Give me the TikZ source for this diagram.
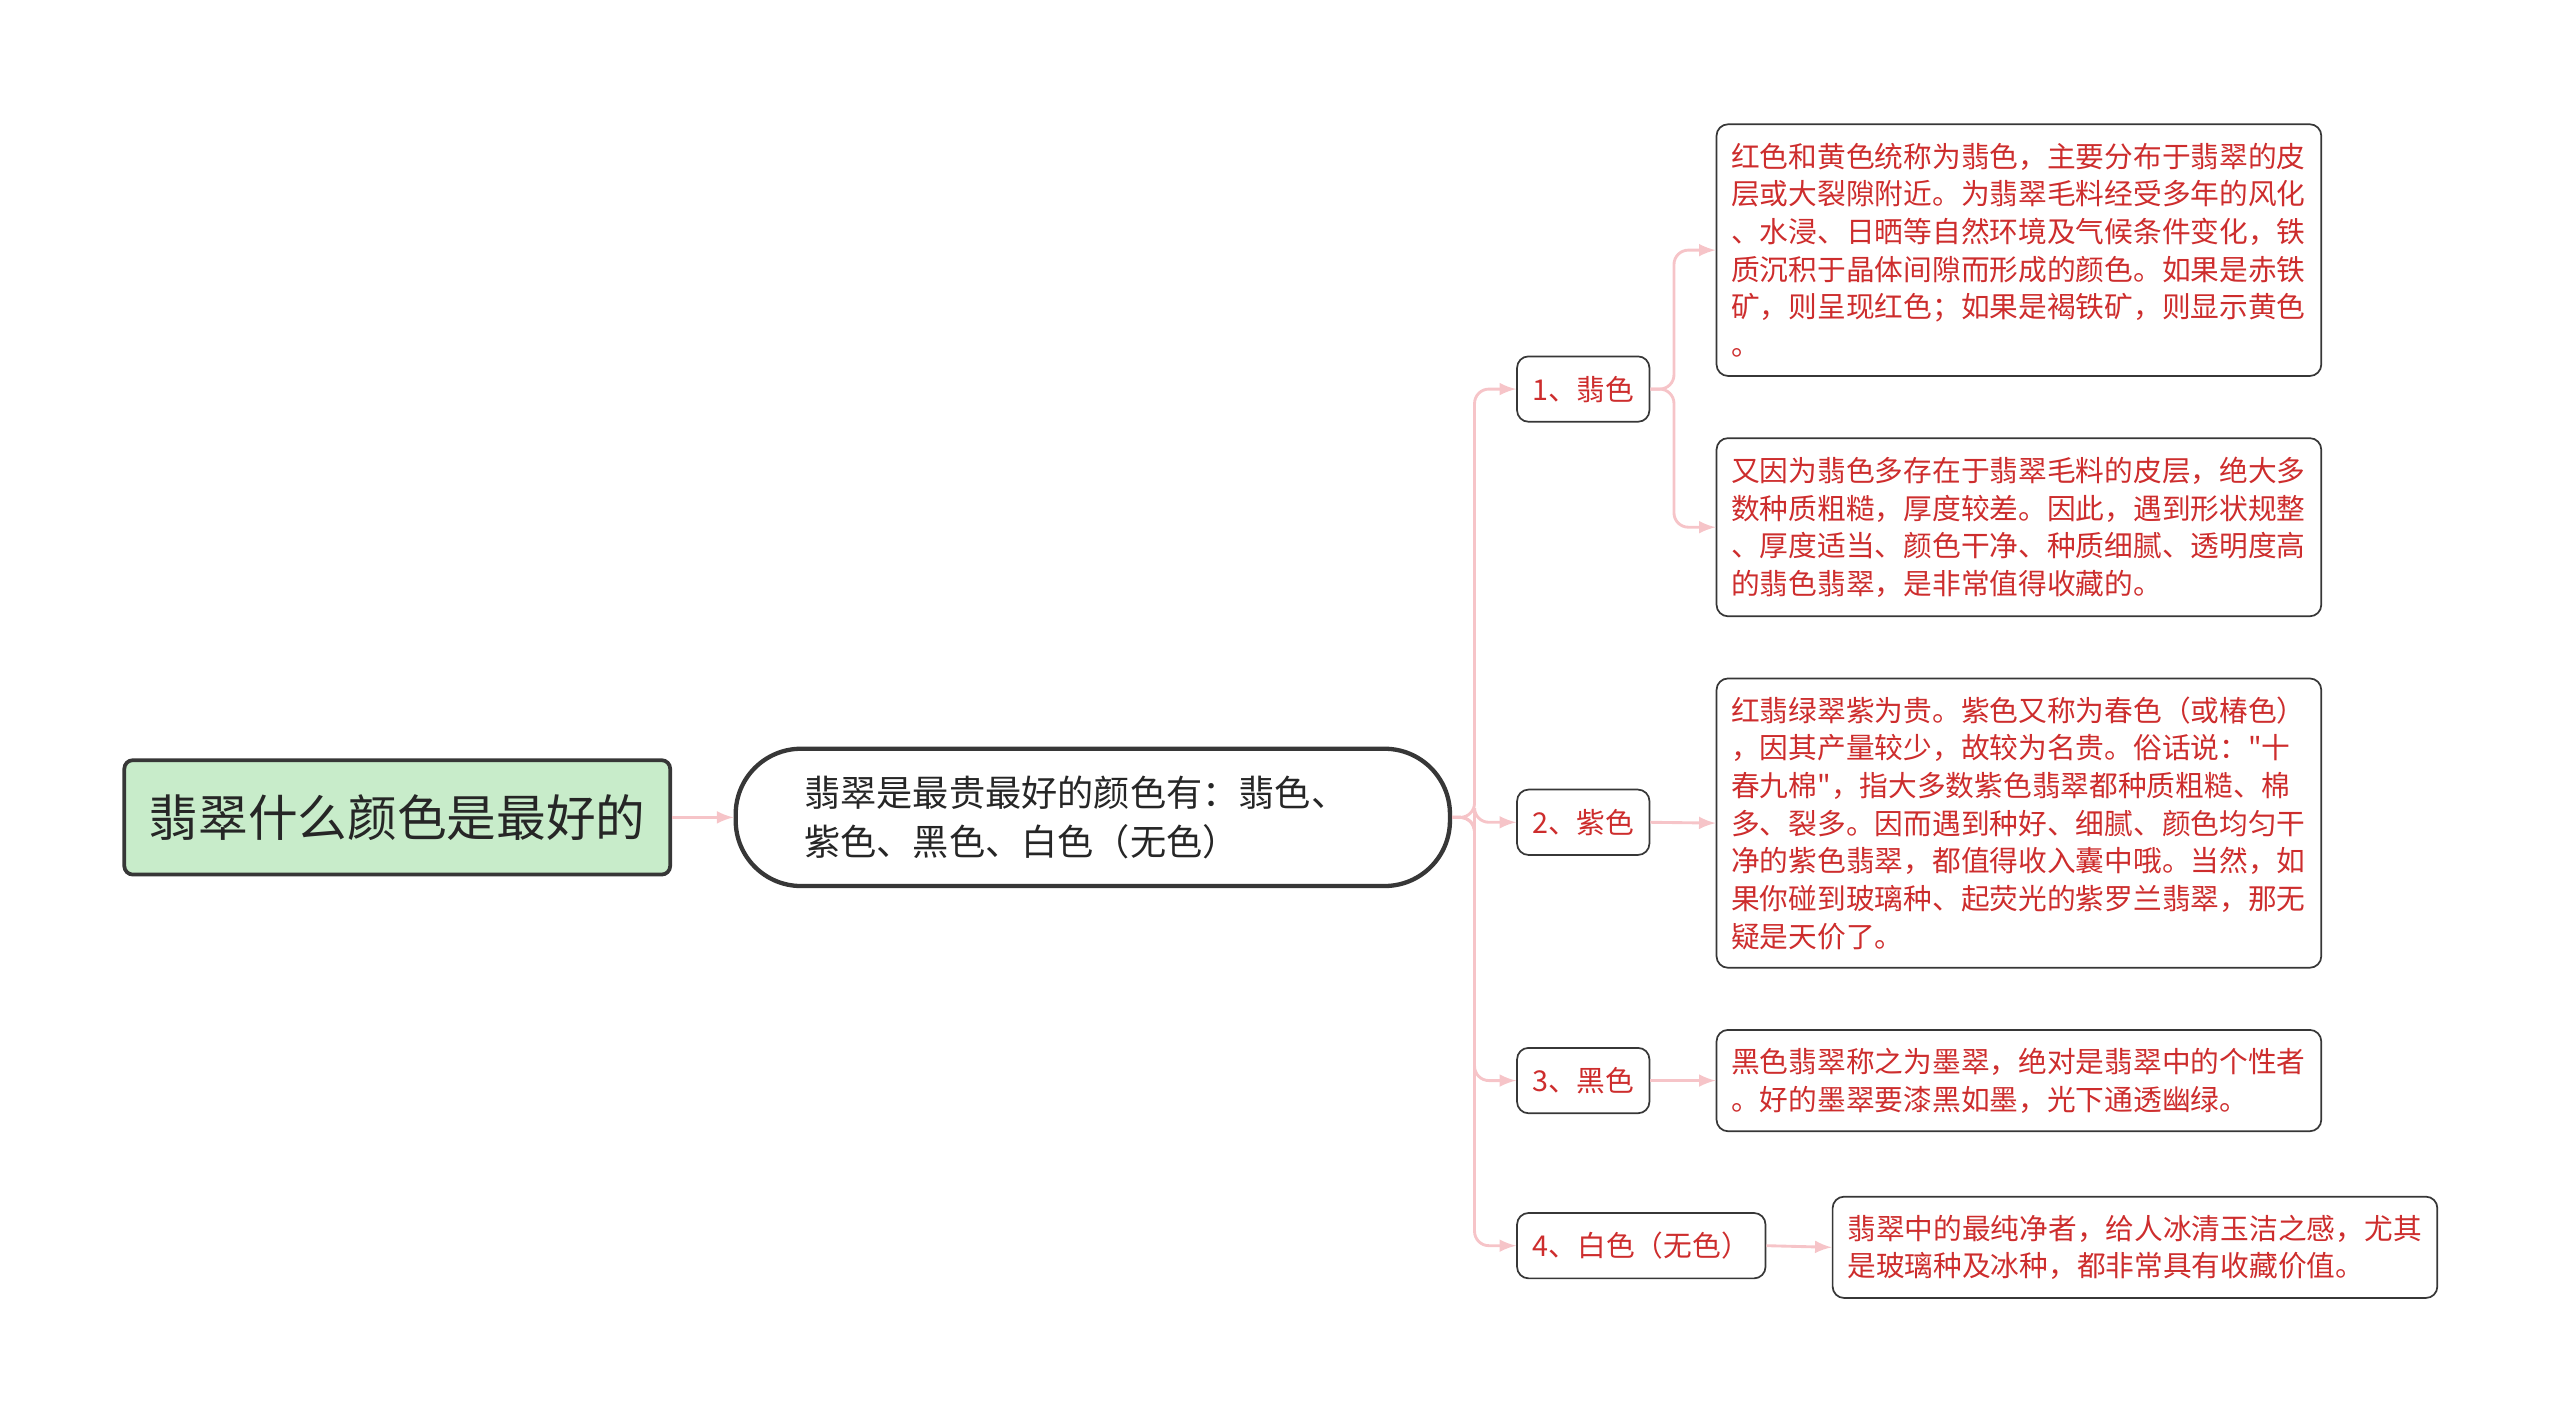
\documentclass[tikz,border=0pt]{standalone}
\usepackage{fontspec}
\setmainfont{Noto Sans CJK SC}[Ligatures=TeXOff]
\begin{document}
\definecolor{redtxt}{RGB}{205,45,45}
\definecolor{pinkln}{RGB}{246,196,200}
\definecolor{bord}{RGB}{55,55,55}
\definecolor{rootfill}{RGB}{200,236,202}
\begin{tikzpicture}[x=0.02cm,y=-0.02cm,
  root/.style={draw=bord,line width=1.3pt,fill=rootfill,rounded corners=3pt,minimum width=6.68cm,minimum height=1.4cm,font=\fontsize{17.3}{20}\selectfont,text=black!85},
  mid/.style={draw=bord,line width=1.5pt,fill=white,rounded corners=0.8cm,minimum width=8.74cm,minimum height=1.68cm,font=\fontsize{12.6}{17}\selectfont,text=black!85,align=left,text width=7.06cm},
  lab/.style={draw=bord,line width=0.6pt,rounded corners=4pt,minimum height=0.8cm,font=\fontsize{10}{13}\selectfont,text=redtxt,inner xsep=0.15cm},
  tbox/.style={draw=bord,line width=0.6pt,rounded corners=4pt,font=\fontsize{10}{13.1}\selectfont,text=redtxt,align=left,text width=7.04cm,inner xsep=0.18cm,minimum width=7.4cm},
  conn/.style={draw=pinkln,line width=1pt,rounded corners=5pt,-latex}]
\useasboundingbox (0,0) rectangle (1566,873.3);
\node[root] (r) at (243,500) {翡翠什么颜色是最好的};
\node[mid] (m) at (668.5,500) {翡翠是最贵最好的颜色有：翡色、\\紫色、黑色、白色（无色）};
\node[lab,minimum width=1.62cm] (l1) at (968.5,238) {1、翡色};
\node[lab,minimum width=1.62cm] (l2) at (968.5,503) {2、紫色};
\node[lab,minimum width=1.62cm] (l3) at (968.5,661) {3、黑色};
\node[lab,minimum width=3.04cm] (l4) at (1004,762) {4、白色（无色）};
\node[tbox,minimum height=3.08cm] (b1) at (1235,153) {红色和黄色统称为翡色，主要分布于翡翠的皮\\层或大裂隙附近。为翡翠毛料经受多年的风化\\、水浸、日晒等自然环境及气候条件变化，铁\\质沉积于晶体间隙而形成的颜色。如果是赤铁\\矿，则呈现红色；如果是褐铁矿，则显示黄色\\。};
\node[tbox,minimum height=2.18cm] (b2) at (1235,322.5) {又因为翡色多存在于翡翠毛料的皮层，绝大多\\数种质粗糙，厚度较差。因此，遇到形状规整\\、厚度适当、颜色干净、种质细腻、透明度高\\的翡色翡翠，是非常值得收藏的。};
\node[tbox,minimum height=3.54cm] (b3) at (1235,503.5) {红翡绿翠紫为贵。紫色又称为春色（或椿色）\\，因其产量较少，故较为名贵。俗话说："十\\春九棉"，指大多数紫色翡翠都种质粗糙、棉\\多、裂多。因而遇到种好、细腻、颜色均匀干\\净的紫色翡翠，都值得收入囊中哦。当然，如\\果你碰到玻璃种、起荧光的紫罗兰翡翠，那无\\疑是天价了。};
\node[tbox,minimum height=1.24cm] (b4) at (1235,661) {黑色翡翠称之为墨翠，绝对是翡翠中的个性者\\。好的墨翠要漆黑如墨，光下通透幽绿。};
\node[tbox,minimum height=1.24cm] (b5) at (1306,763) {翡翠中的最纯净者，给人冰清玉洁之感，尤其\\是玻璃种及冰种，都非常具有收藏价值。};
\draw[conn] (r.east) -- (m.west);
\coordinate (t) at (902,500);
\draw[conn] (m.east) -- (t) |- (l1.west);
\draw[conn] (m.east) -- (t) |- (l2.west);
\draw[conn] (m.east) -- (t) |- (l3.west);
\draw[conn] (m.east) -- (t) |- (l4.west);
\coordinate (u) at (1024,238);
\draw[conn] (l1.east) -- (u) |- (b1.west);
\draw[conn] (l1.east) -- (u) |- (b2.west);
\draw[conn] (l2.east) -- (b3.west);
\draw[conn] (l3.east) -- (b4.west);
\draw[conn] (l4.east) -- (b5.west);
\end{tikzpicture}
\end{document}
